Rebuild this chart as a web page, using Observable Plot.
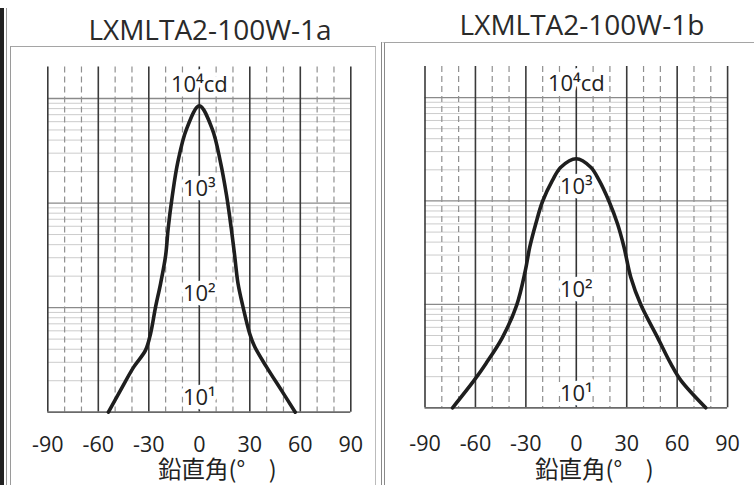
<!DOCTYPE html>
<html>
<head>
<meta charset="utf-8">
<script src="https://cdn.jsdelivr.net/npm/d3@7"></script>
<script src="https://cdn.jsdelivr.net/npm/@observablehq/plot@0.6"></script>
<style>
  html, body { margin: 0; padding: 0; background: #fff; }
  #wrap { position: relative; width: 754px; height: 485px; overflow: hidden; background: #fff; }
  .title { position: absolute; font-family: "Open Sans", sans-serif; font-size: 28px; line-height: 28px; color: #2a2a2a; text-align: center; white-space: nowrap; }
  .panel { position: absolute; top: 50px; }
  .edge { position: absolute; }
</style>
</head>
<body>
<div id="wrap">
  <div class="edge" style="left:0;top:8px;width:4px;height:477px;background:#222;"></div>
  <div class="edge" style="left:6px;top:8px;width:1px;height:477px;background:#999;"></div>
  <div class="edge" style="left:10px;top:46px;width:364px;height:450px;border-left:1.5px solid #9a9a9a;border-top:1.5px solid #a5a5a5;border-right:1.5px solid #bbb;"></div>
  <div class="edge" style="left:381px;top:42px;width:380px;height:450px;border-left:4px double #8a8a8a;border-top:1.5px solid #a5a5a5;"></div>
  <div class="title" id="t1" style="left:0;top:15px;width:420px;"></div>
  <div class="title" id="t2" style="left:377px;top:10px;width:410px;"></div>
  <div class="panel" id="p1" style="left:0;"></div>
  <div class="panel" id="p2" style="left:377px;"></div>
</div>
<script>
// ---- data ----
const titles = ["LXMLTA2-100W-1a", "LXMLTA2-100W-1b"];
const xLabel = "鉛直角(°\u3000)";
const xTicks = [-90, -60, -30, 0, 30, 60, 90];
const solidX = [-90, -60, -30, 30, 60, 90];
const dashedX = [-80, -70, -50, -40, -20, -10, 10, 20, 40, 50, 70, 80];
const decadeValues = [10000, 1000, 100, 10];
const decadeLabels = ["10⁴cd", "10³", "10²", "10¹"];

// LXMLTA2-100W-1a : vertical angle (deg) vs luminous intensity (cd)
const angles1a = [-54, -47, -39, -32, -29, -26, -23, -20, -18.5, -16, -12.8, -7.6, 0, 7.7, 12.6, 16.2, 19, 21, 23, 26, 30, 33, 40, 49, 57];
const values1a = [10, 16, 27, 39, 56, 101, 170, 315, 570, 1180, 2450, 5100, 8500, 5100, 2450, 1180, 570, 315, 170, 101, 56, 42, 27, 16, 10];

// LXMLTA2-100W-1b
const angles1b = [-73.6, -60.8, -53.8, -43.9, -35.4, -30.3, -27.7, -24.1, -20.1, -14.2, -9.2, 0, 8.6, 13.6, 19.5, 24.5, 28.4, 32.4, 38.4, 48.3, 56.2, 62.2, 77];
const values1b = [10, 18.4, 26.7, 48, 99, 213, 357, 602, 988, 1580, 2120, 2560, 2120, 1580, 988, 602, 357, 183, 99, 48, 26.7, 18.4, 10];

const minorY = d3.range(1, 4).flatMap(e => d3.range(2, 10).map(k => k * 10 ** e));

function panel(angles, values, m) {
  const pts = angles.map((a, i) => ({a, v: values[i]}));
  return Plot.plot({
    width: 377,
    height: 435,
    marginLeft: m.left,
    marginRight: m.right,
    marginTop: m.top,
    marginBottom: m.bottom,
    style: {fontFamily: "'Open Sans', sans-serif", fontSize: "21px", color: "#222", background: "transparent", overflow: "visible"},
    x: {domain: [-90, 90], axis: null},
    y: {type: "log", domain: [10, 20000], axis: null},
    marks: [
      Plot.ruleY(minorY, {stroke: "#cccccc", strokeWidth: 1}),
      Plot.ruleY(decadeValues.slice(0, 3), {stroke: "#8a8a8a", strokeWidth: 1.3}),
      Plot.ruleX(dashedX, {stroke: "#909090", strokeWidth: 1.2, strokeDasharray: "6,4"}),
      Plot.ruleX(solidX, {stroke: "#3a3a3a", strokeWidth: 1.6}),
      Plot.ruleX([0], {stroke: "#333", strokeWidth: 1.6}),
      Plot.ruleY([10], {stroke: "#6a6a6a", strokeWidth: 1.8}),
      Plot.text(decadeValues, {x: 0, y: d => d, text: (d, i) => decadeLabels[i], dy: -14, fontSize: 22, fill: "#222", stroke: "white", strokeWidth: 9, strokeLinejoin: "round", paintOrder: "stroke"}),
      Plot.line(pts, {x: "a", y: "v", curve: "catmull-rom", stroke: "#1e1e1e", strokeWidth: 3.6, strokeLinejoin: "round"}),
      Plot.axisX(xTicks, {tickSize: 0, tickPadding: m.pad, fontSize: 21.5, tickFormat: d => String(d), label: null, fill: "#222"}),
      Plot.text([xLabel], {frameAnchor: "bottom", text: d => d, dx: 18, dy: m.labelDy, fontSize: 23.5, fontFamily: "'Noto Sans CJK JP', sans-serif", fill: "#222"})
    ]
  });
}

document.getElementById("t1").textContent = titles[0];
document.getElementById("t2").textContent = titles[1];
document.getElementById("p1").append(panel(angles1a, values1a, {left: 47.3, right: 26.7, top: 16.5, bottom: 73.3, labelDy: 66, pad: 25}));
document.getElementById("p2").append(panel(angles1b, values1b, {left: 47.5, right: 26.9, top: 15.9, bottom: 77.7, labelDy: 70, pad: 28}));
</script>
</body>
</html>
